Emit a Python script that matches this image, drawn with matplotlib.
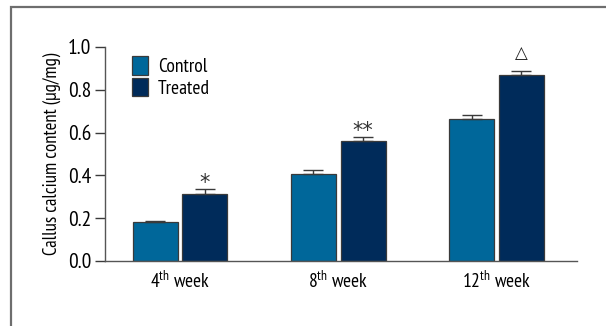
import matplotlib
matplotlib.use("Agg")
import matplotlib.pyplot as plt
from matplotlib.patches import Rectangle
import numpy as np

plt.rcParams["font.family"] = ["PT Sans Narrow", "DejaVu Sans"]
plt.rcParams["mathtext.fontset"] = "custom"
plt.rcParams["mathtext.rm"] = "PT Sans Narrow"
plt.rcParams["mathtext.it"] = "PT Sans Narrow"

weeks = ["4", "8", "12"]
control = [0.182, 0.406, 0.663]
control_err = [0.003, 0.02, 0.019]
treated = [0.313, 0.561, 0.869]
treated_err = [0.022, 0.018, 0.019]
marks = ["*", "**", "\u25b3"]

c_control = "#00679a"
c_treated = "#002b5a"
edge = "#3a3a3a"

fig = plt.figure(figsize=(6.06, 3.26), dpi=100)
# outer frame of the panel
fig.add_artist(Rectangle((11 / 606, -0.1), 1.2, (326 - 7) / 326 + 0.1,
                         transform=fig.transFigure, fill=False,
                         edgecolor="#6e6e6e", linewidth=1.6))

ax = fig.add_axes([105 / 606, 1 - 261 / 326, (577 - 105) / 606, (261 - 47) / 326])

x = np.arange(len(weeks))
w = 0.285
off = 0.157
ax.bar(x - off, control, w, color=c_control, edgecolor=edge, linewidth=0.9,
       label="Control", zorder=2)
ax.bar(x + off, treated, w, color=c_treated, edgecolor=edge, linewidth=0.9,
       label="Treated", zorder=2)
ax.errorbar(x - off, control, yerr=[np.zeros(3), control_err], fmt="none",
            ecolor=edge, elinewidth=1.0, capsize=7, capthick=1.0, zorder=3)
ax.errorbar(x + off, treated, yerr=[np.zeros(3), treated_err], fmt="none",
            ecolor=edge, elinewidth=1.0, capsize=7, capthick=1.0, zorder=3)

for xi, v, e, m in zip(x, treated, treated_err, marks):
    if m == "\u25b3":
        ax.text(xi + off, v + e + 0.085, m, ha="center", va="center",
                fontsize=12, color="#222222", family=["DejaVu Sans"])
    else:
        ax.text(xi + off, v + e + 0.03, m, ha="center", va="center",
                fontsize=15, color="#333333", family=["DejaVu Sans"])

ax.set_xlim(-0.475, 2.51)
ax.set_ylim(0, 1.0)
ticks = np.arange(0, 1.01, 0.2)
ax.set_yticks(ticks)
ax.set_yticklabels([f"{t:.1f}" for t in ticks], fontsize=15.5)
ax.set_xticks(x)
ax.set_xticklabels([f"{wk}$^{{\\mathrm{{th}}}}$ week" for wk in weeks], fontsize=14)
ax.tick_params(axis="x", length=0, pad=7)
ax.tick_params(axis="y", length=7, width=1.0, color=edge, pad=3)
for s in ["top", "right"]:
    ax.spines[s].set_visible(False)
for s in ["left", "bottom"]:
    ax.spines[s].set_color("#555555")
    ax.spines[s].set_linewidth(1.0)
ax.set_ylabel("Callus calcium content (\u03bcg/mg)", fontsize=13.5, labelpad=5)

ax.legend(loc="upper left", bbox_to_anchor=(0.04, 0.995), frameon=False,
          fontsize=14, handlelength=0.85, handleheight=1.1, handletextpad=0.5,
          labelspacing=0.1, borderaxespad=0)

fig.savefig("out.png", dpi=100)
